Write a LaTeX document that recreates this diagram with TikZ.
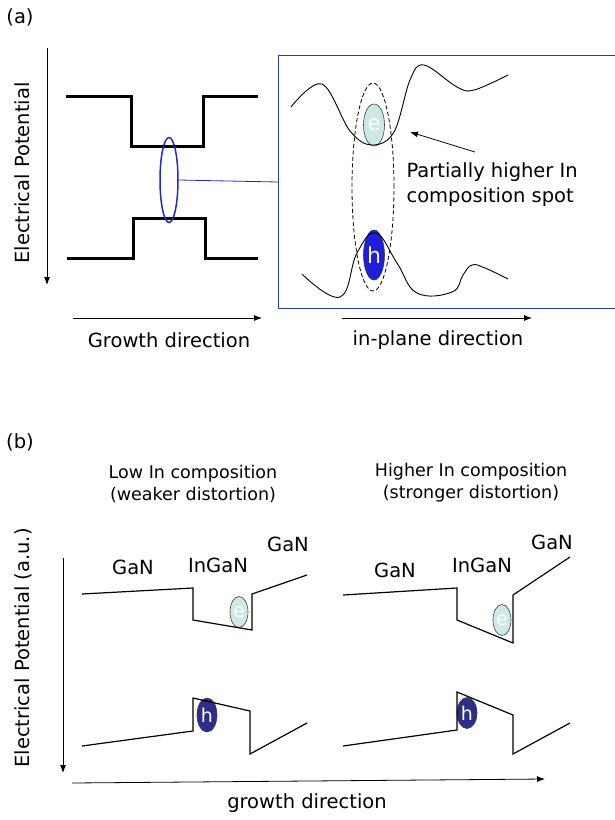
\documentclass[tikz,border=0pt]{standalone}
\usepackage{fontspec}
\setmainfont{DejaVu Sans}
\usepackage{xcolor}
\usepackage{tikz}
\usetikzlibrary{arrows.meta,shapes.geometric}

\definecolor{boxblue}{RGB}{40,60,190}
\definecolor{spotblue}{RGB}{30,40,200}
\definecolor{ecyan}{RGB}{205,232,230}
\definecolor{hblue}{RGB}{30,30,220}
\definecolor{hnavy}{RGB}{45,45,140}

\begin{document}
\begin{tikzpicture}[x=1pt,y=-1pt,
  lbl/.style={font=\fontsize{19.5}{25}\selectfont},
  ttl/.style={font=\fontsize{17.5}{22}\selectfont,align=center},
  axis/.style={-{Latex[length=8pt,width=6pt]},line width=0.8pt},
  band/.style={line width=1.2pt,line join=miter},
  carrier/.style={ellipse,draw=black!75,line width=0.6pt,inner sep=0pt,text=white}]
\useasboundingbox (0,0) rectangle (614,820);

% ---------- Panel (a) ----------
\node[lbl] (tag a) at (20,17) {(a)};

% Potential axis
\coordinate (pa top) at (47,48);
\coordinate (pa bot) at (47,285);
\draw[axis] (pa top) -- (pa bot);
\node[lbl,rotate=90] (pa label) at (22,173) {Electrical Potential};

% Quantum well (conduction and valence band)
\draw[line width=3pt] (66,96) -- (131,96) -- (131,146) -- (203,146) -- (203,96) -- (258,96);
\draw[line width=3pt] (67,258) -- (133,258) -- (133,218) -- (205,218) -- (205,258) -- (258,258);

% Zoomed region
\node[ellipse,draw=spotblue,line width=1.5pt,minimum width=18pt,minimum height=85pt,inner sep=0pt] (spot) at (169,180) {};
\coordinate (box in) at (278,182);
\draw[spotblue,line width=0.8pt] (spot.east) -- (box in);

% Growth direction
\coordinate (ga start) at (73,318);
\coordinate (ga end) at (262,318);
\draw[axis] (ga start) -- (ga end);
\node[lbl] (ga label) at (169,340) {Growth direction};

% Close-up box
\draw[boxblue,line width=1pt] (616,55) -- (278,55) -- (278,308) -- (616,308);

% In-plane potential fluctuation
\node[ellipse,draw,dashed,dash pattern=on 4pt off 2.5pt,line width=0.8pt,minimum width=42pt,minimum height=208pt,inner sep=0pt] (spot region) at (373,187) {};
\node[carrier,fill=ecyan,minimum width=21pt,minimum height=42pt,font=\fontsize{21}{21}\selectfont] (e a) at (374,125) {e};
\node[carrier,fill=hblue,minimum width=21pt,minimum height=50pt,font=\fontsize{22}{22}\selectfont] (h a) at (374,255) {h};
\draw[line width=0.9pt] plot[smooth,tension=0.6] coordinates {(291,107) (322,84) (350,131) (372,145) (394,132) (410,80) (424,65) (457,87) (474,90) (508,75)};
\draw[line width=0.9pt] plot[smooth,tension=0.7] coordinates {(302,274) (340,297) (357,253) (376,233) (397,263) (417,293) (452,292) (463,275) (472,265) (485,268) (508,279)};

% Label for the spot
\node[lbl,align=left,anchor=west] (spot text) at (403,185) {Partially higher In\\composition spot};
\coordinate (spot tail) at (475,152);
\coordinate (spot tip) at (410,132);
\draw[axis] (spot tail) -- (spot tip);

% In-plane direction
\coordinate (ia start) at (342,318);
\coordinate (ia end) at (532,318);
\draw[axis] (ia start) -- (ia end);
\node[lbl] (ia label) at (438,340) {in-plane direction};

% ---------- Panel (b) ----------
\node[lbl] (tag b) at (20,442) {(b)};

% Titles
\node[ttl] (low title) at (193,484) {Low In composition\\(weaker distortion)};
\node[ttl] (high title) at (471,483) {Higher In composition\\(stronger distortion)};

% Axes
\coordinate (pb top) at (63,558);
\coordinate (pb bot) at (63,773);
\draw[axis] (pb top) -- (pb bot);
\node[lbl,rotate=90] (pb label) at (23,648) {Electrical Potential (a.u.)};
\coordinate (gb start) at (72,783);
\coordinate (gb end) at (545,779);
\draw[axis] (gb start) -- (gb end);
\node[lbl] (gb label) at (307,803) {growth direction};

% Low In composition
\node[carrier,fill=ecyan,minimum width=18pt,minimum height=31pt,font=\fontsize{19}{19}\selectfont] (e low) at (239,612) {e};
\node[carrier,fill=hnavy,minimum width=20pt,minimum height=34pt,font=\fontsize{19}{19}\selectfont] (h low) at (207,715) {h};
\draw[band] (82,594) -- (193,588) -- (193,620) -- (252,630) -- (252,594) -- (307,575);
\draw[band] (82,746) -- (193,731) -- (193,698) -- (250,711) -- (250,754) -- (307,723);
\node[lbl] (gan1 low) at (133,567) {GaN};
\node[lbl] (ingan low) at (218,565) {InGaN};
\node[lbl] (gan2 low) at (288,544) {GaN};

% Higher In composition
\node[carrier,fill=ecyan,minimum width=18pt,minimum height=31pt,font=\fontsize{19}{19}\selectfont] (e high) at (502,620) {e};
\node[carrier,fill=hnavy,minimum width=20pt,minimum height=31pt,font=\fontsize{19}{19}\selectfont] (h high) at (467,713) {h};
\draw[band] (343,595) -- (457,588) -- (457,620) -- (513,643) -- (513,595) -- (570,557);
\draw[band] (343,746) -- (457,730) -- (457,692) -- (513,715) -- (513,754) -- (570,723);
\node[lbl] (gan1 high) at (395,570) {GaN};
\node[lbl] (ingan high) at (482,565) {InGaN};
\node[lbl] (gan2 high) at (552,542) {GaN};
\end{tikzpicture}
\end{document}
